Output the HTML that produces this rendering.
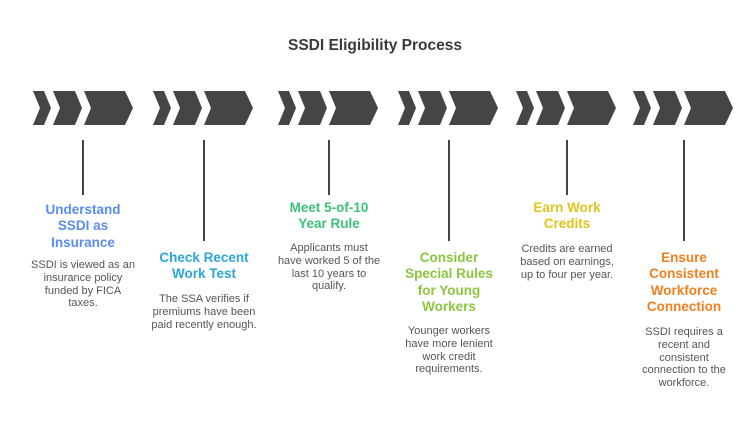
<!DOCTYPE html>
<html><head><meta charset="utf-8"><style>
body{margin:0;width:750px;height:442px;background:#fff;position:relative;overflow:hidden;font-family:"Liberation Sans",sans-serif}
.t{position:absolute;width:130px;text-align:center;font-weight:bold;font-size:13.5px;line-height:16.3px}
.b{position:absolute;width:130px;text-align:center;font-size:11px;line-height:12.8px;color:#555}
</style></head><body>
<div style="position:absolute;top:37px;width:750px;text-align:center;font-weight:bold;font-size:15.5px;color:#3a3a3a">SSDI Eligibility Process</div>
<svg width="750" height="442" style="position:absolute;left:0;top:0">
<defs><g id="c" fill="#454545">
<polygon points="0,0 11,0 18,17 11,34 0,34 7,17"/>
<polygon points="20,0 42,0 49,17 42,34 20,34 27,17"/>
<polygon points="51,0 92,0 100,17 92,34 51,34 58,17"/>
</g></defs>
<use href="#c" x="33" y="91"/><use href="#c" x="153" y="91"/><use href="#c" x="278" y="91"/>
<use href="#c" x="398" y="91"/><use href="#c" x="516" y="91"/><use href="#c" x="633" y="91"/>
<g stroke="#444" stroke-width="2">
<line x1="83" y1="140" x2="83" y2="195"/><line x1="204" y1="140" x2="204" y2="241"/>
<line x1="329" y1="140" x2="329" y2="195"/><line x1="449" y1="140" x2="449" y2="241"/>
<line x1="567" y1="140" x2="567" y2="195"/><line x1="684" y1="140" x2="684" y2="241"/>
</g></svg>
<div class="t" style="left:18px;top:202px;color:#5b8def">Understand<br>SSDI as<br>Insurance</div>
<div class="b" style="left:18px;top:259px">SSDI is viewed as an<br>insurance policy<br>funded by FICA<br>taxes.</div>
<div class="t" style="left:139px;top:250px;color:#2aa6d9">Check Recent<br>Work Test</div>
<div class="b" style="left:139px;top:293px">The SSA verifies if<br>premiums have been<br>paid recently enough.</div>
<div class="t" style="left:264px;top:200px;color:#3cc178">Meet 5-of-10<br>Year Rule</div>
<div class="b" style="left:264px;top:242px">Applicants must<br>have worked 5 of the<br>last 10 years to<br>qualify.</div>
<div class="t" style="left:384px;top:250px;color:#8cc63f">Consider<br>Special Rules<br>for Young<br>Workers</div>
<div class="b" style="left:384px;top:325px">Younger workers<br>have more lenient<br>work credit<br>requirements.</div>
<div class="t" style="left:502px;top:200px;color:#e3c21a">Earn Work<br>Credits</div>
<div class="b" style="left:502px;top:243px">Credits are earned<br>based on earnings,<br>up to four per year.</div>
<div class="t" style="left:619px;top:250px;color:#f07f1f">Ensure<br>Consistent<br>Workforce<br>Connection</div>
<div class="b" style="left:619px;top:326px">SSDI requires a<br>recent and<br>consistent<br>connection to the<br>workforce.</div>
</body></html>
